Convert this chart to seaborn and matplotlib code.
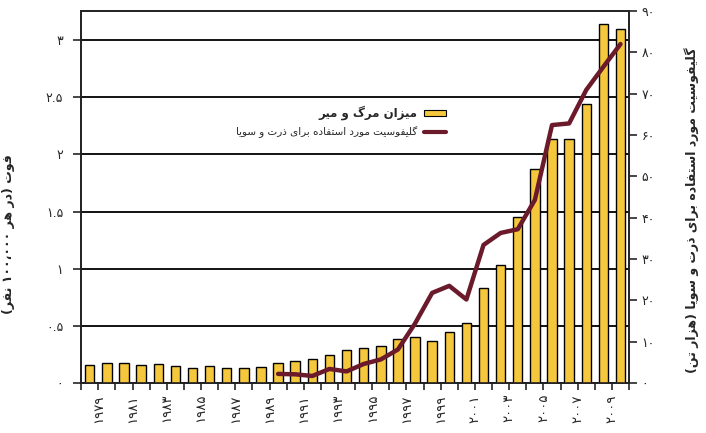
import re
import numpy as np
import pandas as pd
import matplotlib
matplotlib.use('Agg')
import matplotlib.pyplot as plt
import seaborn as sn
from matplotlib.patches import Patch
from matplotlib.lines import Line2D

# data
years = list(range(1979, 2011))
deaths = [0.157, 0.175, 0.175, 0.157, 0.166, 0.148, 0.134, 0.148, 0.134, 0.134, 0.143,
          0.172, 0.192, 0.21, 0.248, 0.286, 0.306, 0.321, 0.385, 0.40, 0.37, 0.449,
          0.528, 0.831, 1.032, 1.455, 1.869, 2.13, 2.13, 2.438, 3.138, 3.10]
glyph_years = list(range(1990, 2011))
glyphosate = [2.2, 2.1, 1.7, 3.4, 2.8, 4.6, 5.7, 8.1, 14.4, 21.8, 23.5, 20.2,
              33.4, 36.3, 37.2, 44.3, 62.4, 62.8, 70.9, 76.5, 82.0]
left_ticks = [0, 0.5, 1, 1.5, 2, 2.5, 3]
right_ticks = list(range(0, 100, 10))

bar_label = 'میزان مرگ و میر'
line_label = 'گلیفوسیت مورد استفاده برای ذرت و سویا'
left_title = 'فوت (در هر ۱۰۰،۰۰۰ نفر)'
right_title = 'گلیفوسیت مورد استفاده برای ذرت و سویا (هزار تن)'

# arabic presentation forms: isolated, final, initial, medial
FORMS = {
    'ا': ('\uFE8D', '\uFE8E', None, None),
    'ب': ('\uFE8F', '\uFE90', '\uFE91', '\uFE92'),
    'ت': ('\uFE95', '\uFE96', '\uFE97', '\uFE98'),
    'د': ('\uFEA9', '\uFEAA', None, None),
    'ذ': ('\uFEAB', '\uFEAC', None, None),
    'ر': ('\uFEAD', '\uFEAE', None, None),
    'ز': ('\uFEAF', '\uFEB0', None, None),
    'س': ('\uFEB1', '\uFEB2', '\uFEB3', '\uFEB4'),
    'ف': ('\uFED1', '\uFED2', '\uFED3', '\uFED4'),
    'ل': ('\uFEDD', '\uFEDE', '\uFEDF', '\uFEE0'),
    'م': ('\uFEE1', '\uFEE2', '\uFEE3', '\uFEE4'),
    'ن': ('\uFEE5', '\uFEE6', '\uFEE7', '\uFEE8'),
    'ه': ('\uFEE9', '\uFEEA', '\uFEEB', '\uFEEC'),
    'و': ('\uFEED', '\uFEEE', None, None),
    'گ': ('\uFB92', '\uFB93', '\uFB94', '\uFB95'),
    'ی': ('\uFBFC', '\uFBFD', '\uFBFE', '\uFBFF'),
}


def rtl(text):
    out = []
    for i, ch in enumerate(text):
        if ch not in FORMS:
            out.append(ch)
            continue
        prev = text[i - 1] if i > 0 else ''
        nxt = text[i + 1] if i + 1 < len(text) else ''
        p = prev in FORMS and FORMS[prev][2] is not None
        n = FORMS[ch][2] is not None and nxt in FORMS
        f = FORMS[ch]
        out.append(f[3] if p and n else f[1] if p else f[2] if n else f[0])
    s = ''.join(out)[::-1].translate(str.maketrans('()', ')('))
    return re.sub('[۰-۹][۰-۹،.]*[۰-۹]|[۰-۹]', lambda m: m.group(0)[::-1], s)


def fa(v):
    s = ('%g' % v)
    return s.translate(str.maketrans('0123456789', '۰۱۲۳۴۵۶۷۸۹'))


sn.set_style('white')
plt.rcParams['font.family'] = ['DejaVu Sans']

bar_color = '#F5C73C'
line_color = '#6B1A2B'

df = pd.DataFrame({'Year': years, 'Deaths': deaths})
gdf = pd.DataFrame({'pos': [years.index(y) for y in glyph_years], 'Glyphosate': glyphosate})

fig, ax = plt.subplots(figsize=(7.06, 4.33), dpi=100)
plt.subplots_adjust(left=0.115, right=0.891, top=0.9746, bottom=0.1155)

sn.barplot(data=df, x='Year', y='Deaths', color=bar_color, width=0.55,
           edgecolor='black', linewidth=1, saturation=1, ax=ax, zorder=3)
ax.set_axisbelow(True)
ax.set_xlim(-0.5, len(years) - 0.5)
ax.set_ylim(0, 3.254)
ax.set_yticks(left_ticks)
ax.set_yticklabels([fa(v) for v in left_ticks], fontsize=9)
ax.yaxis.grid(True, color='black', linewidth=1.3)
ax.xaxis.grid(False)

# ticks between bars, labels every second boundary
pos = np.arange(-0.5, len(years))
labs = []
for k in range(len(pos)):
    if 1 <= k <= 31 and (k - 1) % 2 == 0:
        labs.append(fa(years[0] + k - 1))
    else:
        labs.append('')
ax.set_xticks(pos)
ax.set_xticklabels(labs, rotation=90, fontsize=9.5)
ax.tick_params(axis='x', direction='out', length=5, width=1.2, pad=3, bottom=True)
ax.tick_params(axis='y', direction='out', length=6, width=1.2, pad=7, left=True)
ax.set_xlabel('')
ax.set_ylabel(rtl(left_title), fontsize=9, fontweight='bold', rotation=90)
ax.yaxis.set_label_coords(-0.12, 0.40)
for s in ax.spines.values():
    s.set_color('black')
    s.set_linewidth(1.2)

ax2 = ax.twinx()
sn.lineplot(data=gdf, x='pos', y='Glyphosate', color=line_color, linewidth=3.2, ax=ax2)
ax2.set_ylim(0, 90)
ax2.set_yticks(right_ticks)
ax2.set_yticklabels([fa(v) for v in right_ticks], fontsize=9)
ax2.tick_params(axis='y', direction='out', length=6, width=1.2, pad=3, right=True)
ax2.set_ylabel(rtl(right_title), fontsize=9, fontweight='bold', rotation=90)
ax2.yaxis.set_label_coords(1.10, 0.465)
ax2.set_xlabel('')
for s in ax2.spines.values():
    s.set_linewidth(1.2)

handles = [Patch(facecolor=bar_color, edgecolor='black', linewidth=0.8),
           Line2D([], [], color=line_color, linewidth=3)]
leg = ax2.legend(handles, [rtl(bar_label), rtl(line_label)], loc='upper right',
                 bbox_to_anchor=(452 / 706, 1 - 100 / 433), bbox_transform=fig.transFigure,
                 frameon=False, markerfirst=False, fontsize=8, handlelength=2.0,
                 handleheight=0.45, labelspacing=0.55, handletextpad=0.6, borderpad=0)
leg.get_texts()[0].set_fontweight('bold')
leg.get_texts()[0].set_fontsize(8.5)
leg.get_texts()[1].set_fontsize(7.5)

plt.savefig('out.png', dpi=100)
